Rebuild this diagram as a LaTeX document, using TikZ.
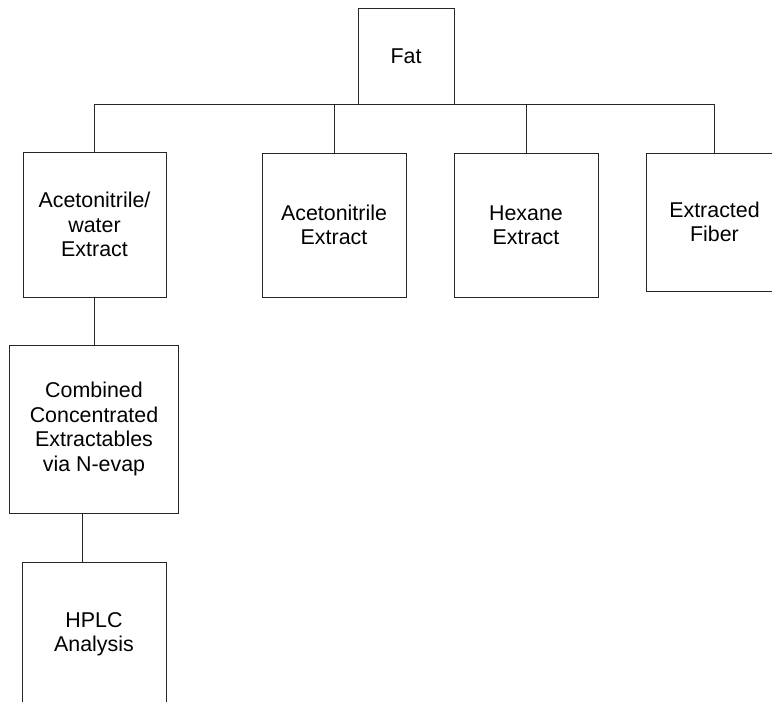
\documentclass[tikz,border=0pt]{standalone}
\usepackage{fontspec}
\setmainfont{Liberation Sans}
\begin{document}
\begin{tikzpicture}[x=1pt, y=-1pt,
    caja/.style={draw=black!85, line width=0.9pt, inner sep=0pt, align=center,
      font=\fontsize{21.4}{24.5}\selectfont},
    linea/.style={draw=black!85, line width=0.9pt}]

    % Marco de la figura (recorta las cajas del borde)
    \useasboundingbox (0,0) rectangle (772,702);
    \clip (0,0) rectangle (772,702);

    % Caja superior
    \node[caja, minimum width=96pt, minimum height=96pt] (fat) at (406, 56) {Fat};

    % Fila de extractos
    \node[caja, minimum width=143pt, minimum height=145pt] (aw) at (94.5, 224.5)
      {Acetonitrile/\\water\\Extract};
    \node[caja, minimum width=144pt, minimum height=144pt] (ace) at (334, 225)
      {Acetonitrile\\Extract};
    \node[caja, minimum width=144pt, minimum height=144pt] (hex) at (526, 225)
      {Hexane\\Extract};
    \node[caja, minimum width=137pt, minimum height=138pt] (fib) at (714.5, 222)
      {Extracted\\Fiber};

    % Columna izquierda
    \node[caja, minimum width=168.5pt, minimum height=168pt] (comb) at (94, 429)
      {Combined\\Concentrated\\Extractables\\via N-evap};
    \node[caja, minimum width=144pt, minimum height=144pt] (hplc) at (94, 634)
      {HPLC\\Analysis};

    % Barra horizontal y ramas
    \draw[linea] (aw.north) -- (aw.north |- fat.south) -- (fib.north |- fat.south) -- (fib.north);
    \draw[linea] (ace.north) -- (ace.north |- fat.south);
    \draw[linea] (hex.north) -- (hex.north |- fat.south);

    % Conectores verticales
    \draw[linea] (aw.south) -- (aw.south |- comb.north);
    \draw[linea] ([xshift=-12pt]comb.south) -- ([xshift=-12pt]comb.south |- hplc.north);

\end{tikzpicture}
\end{document}
